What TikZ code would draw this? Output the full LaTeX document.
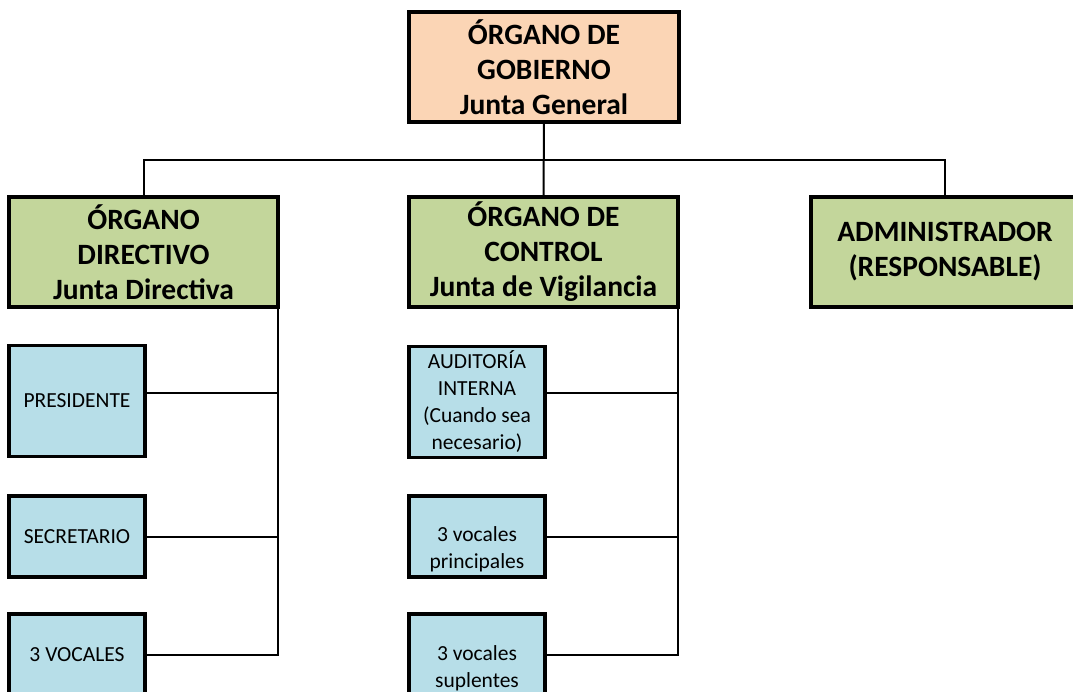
\documentclass[tikz,border=0pt]{standalone}
\usepackage{fontspec}
\setmainfont{Carlito}
\usepackage{xcolor}
\definecolor{gobierno}{HTML}{FBD5B5}
\definecolor{organoverde}{HTML}{C3D69B}
\definecolor{cargoazul}{HTML}{B7DEE8}

\begin{document}
\begin{tikzpicture}[
      x=1pt, y=-1pt,
      organo/.style = {shape=rectangle, draw, line width=3.2pt, outer sep=0pt, inner sep=0pt, align=center,
                       minimum width=269pt, minimum height=110pt, font=\fontsize{29.5}{35}\selectfont\bfseries},
      cargo/.style = {shape=rectangle, draw, line width=3.2pt, outer sep=0pt, inner sep=0pt, align=center,
                      fill=cargoazul, minimum width=136pt, font=\fontsize{21.5}{27}\selectfont},
      linea/.style = {line width=2pt}
    ]
      \useasboundingbox (0,0) rectangle (1073,691);
      \clip (0,0) rectangle (1073,691);

      % organos
      \node[organo, fill=gobierno, minimum width=270pt] (gob) at (544,67) {ÓRGANO DE\\GOBIERNO\\Junta General};
      \node[organo, fill=organoverde] (dir) at (143.5,252) {ÓRGANO\\DIRECTIVO\\Junta Directiva};
      \node[organo, fill=organoverde] (ctrl) at (543.5,252) {ÓRGANO DE\\CONTROL\\Junta de Vigilancia};
      \node[organo, fill=organoverde, minimum width=268pt] (adm) at (945,252) {ADMINISTRADOR\\(RESPONSABLE)};

      % cargos
      \node[cargo, minimum height=111pt] (pres) at (77,401) {PRESIDENTE};
      \node[cargo, minimum height=81pt] (sec) at (77,536.5) {SECRETARIO};
      \node[cargo, minimum height=81pt] (voc) at (77,654.5) {3 VOCALES};
      \node[cargo, minimum height=111pt] (aud) at (477,402) {AUDITORÍA\\INTERNA\\(Cuando sea\\necesario)};
      \node[cargo, minimum height=81pt] (princ) at (477,536.5) {\\[14pt]3 vocales\\principales};
      \node[cargo, minimum height=81pt] (supl) at (477,654.5) {\\[15pt]3 vocales\\suplentes};

      % conectores
      \draw[linea] (gob.south) -- (ctrl.north);
      \draw[linea] (dir.north) -- ++(0,-37) -| (adm.north);
      \draw[linea] (voc.east) -| (dir.south east);
      \draw[linea] ([yshift=8pt]pres.east) -| (dir.south east);
      \draw[linea] (sec.east) -| (dir.south east);
      \draw[linea] (supl.east) -| (ctrl.south east);
      \draw[linea] ([yshift=9pt]aud.east) -| (ctrl.south east);
      \draw[linea] (princ.east) -| (ctrl.south east);
    \end{tikzpicture}
\end{document}
